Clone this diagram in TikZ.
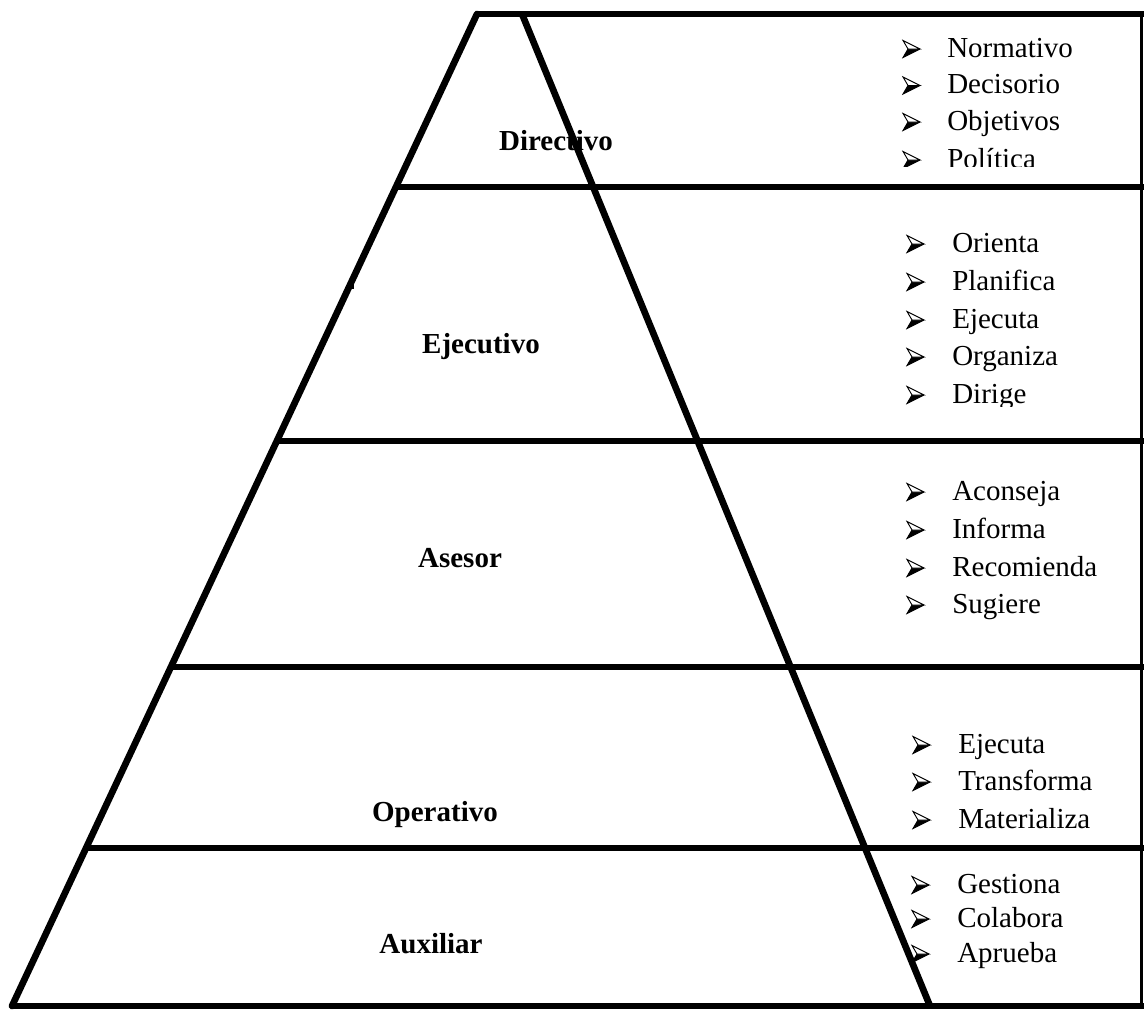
\documentclass[tikz,border=0pt]{standalone}
\usepackage{fontspec}
\setmainfont{Liberation Serif}
\begin{document}
\begin{tikzpicture}[x=0.75pt,y=-0.75pt,
  tier/.style={line width=4.5pt},
  slope/.style={line width=5pt},
  frame/.style={line width=2.25pt},
  level/.style={font=\fontsize{21.75}{26}\selectfont\bfseries, anchor=base, inner sep=0pt},
  item/.style={font=\fontsize{21.75}{26}\selectfont, anchor=base west, inner sep=0pt},
  pics/bul/.style={code={
    \fill[black] (5,0) -- (17,0) -- (0,8.5) -- cycle;
    \draw[line width=0.7pt, line join=miter, fill=white] (0,-8.5) -- (17,0) -- (5,0) -- cycle;
    \draw[line width=0.7pt, line join=miter] (17,0) -- (0,8.5) -- (5,0);
  }}]
\useasboundingbox (0,0) rectangle (1144,1010);

% pyramid corners
\coordinate (apexL) at (477,14);
\coordinate (apexR) at (522,14);
\coordinate (baseL) at (12,1006);
\coordinate (baseR) at (930,1006);
\coordinate (topE) at (1144,14);
\coordinate (botE) at (1144,1006);

% outline of the pyramid and the side panel
\draw[tier] (apexL) -- (topE);
\draw[tier] (baseL) -- (botE);
\draw[slope, line cap=round] (apexL) -- (baseL);
\draw[slope] (apexR) -- (baseR);
\draw[frame] (1141,14) -- (1141,1003);
\draw[line width=2pt] (353,279) -- (353,289);

% level separators
\foreach \yy/\xx in {187/395.9, 441/276.8, 667/170.9, 848/86.0}
  \draw[tier] (\xx,\yy) -- (1144,\yy);

% level names
\node[level] (dir) at (556,150) {Directivo};
\node[level] (eje) at (481,353) {Ejecutivo};
\node[level] (ase) at (460,567) {Asesor};
\node[level] (ope) at (435,821) {Operativo};
\node[level] (aux) at (431,953) {Auxiliar};

% functions of each level
\begin{scope}
  \clip (860,20) rectangle (1138,166);
  \foreach \t/\yy [count=\i] in {Normativo/57, Decisorio/93.5, Objetivos/130, Política/168} {
    \pic at (903,\yy-8) {bul};
    \node[item] (d\i) at (947,\yy) {\t};
  }
\end{scope}
\begin{scope}
  \clip (860,192) rectangle (1138,406);
  \foreach \t/\yy [count=\i] in {Orienta/252, Planifica/290, Ejecuta/328, Organiza/365, Dirige/403} {
    \pic at (907,\yy-8) {bul};
    \node[item] (e\i) at (952,\yy) {\t};
  }
\end{scope}
\foreach \t/\yy [count=\i] in {Aconseja/500, Informa/538, Recomienda/576, Sugiere/613} {
  \pic at (907,\yy-8) {bul};
  \node[item] (a\i) at (952,\yy) {\t};
}
\foreach \t/\yy [count=\i] in {Ejecuta/753, Transforma/790, Materializa/828} {
  \pic at (913,\yy-8) {bul};
  \node[item] (o\i) at (958,\yy) {\t};
}
\foreach \t/\yy [count=\i] in {Gestiona/893, Colabora/927, Aprueba/962} {
  \pic at (912,\yy-8) {bul};
  \node[item] (x\i) at (957,\yy) {\t};
}
\end{tikzpicture}
\end{document}
